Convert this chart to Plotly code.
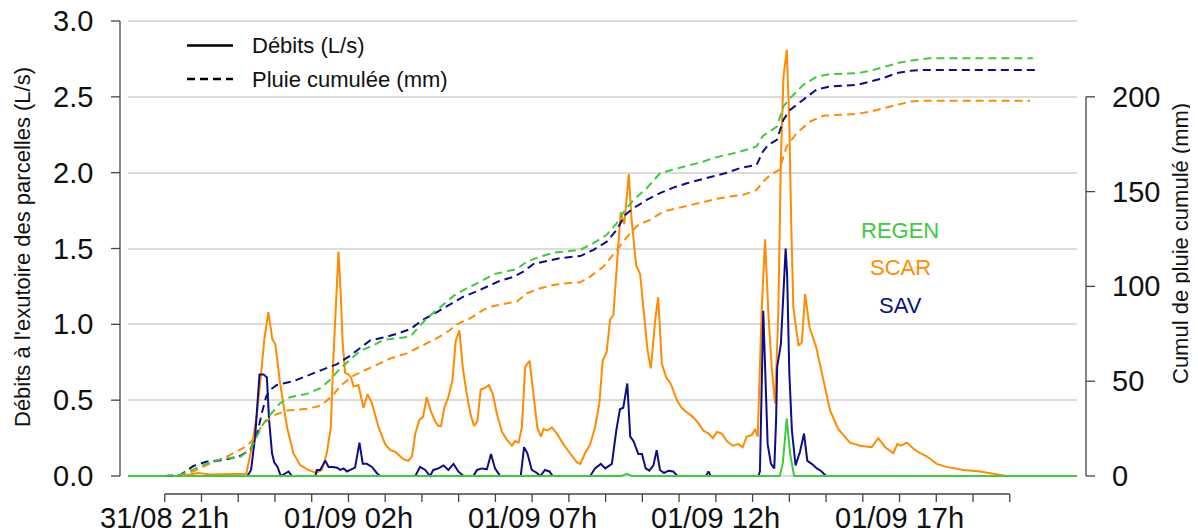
import plotly.graph_objects as go

# ---------------- data (time = hours after 31/08 21h) ----------------
SCAR_T = [-1.0, 0.42, 0.69, 0.91, 1.24, 2.22, 2.37, 2.51, 2.62, 2.71, 2.82, 2.93, 3.01, 3.14, 3.33, 3.50, 3.69, 3.91,
          4.12, 4.28, 4.41, 4.52, 4.59, 4.66, 4.73, 4.79, 4.84, 4.91, 5.00, 5.07, 5.14, 5.27, 5.41, 5.52, 5.64, 5.82,
          6.00, 6.14, 6.27, 6.36, 6.50, 6.63, 6.73, 6.82, 6.93, 7.03, 7.13, 7.24, 7.36, 7.45, 7.52, 7.61, 7.72, 7.83,
          7.92, 8.02, 8.11, 8.22, 8.33, 8.42, 8.51, 8.60, 8.71, 8.82, 8.93, 9.04, 9.18, 9.31, 9.45, 9.54, 9.63, 9.72,
          9.81, 9.93, 10.04, 10.14, 10.24, 10.31, 10.42, 10.54, 10.67, 10.85, 11.03, 11.22, 11.31, 11.44, 11.58, 11.71,
          11.83, 11.92, 12.03, 12.12, 12.21, 12.30, 12.41, 12.51, 12.63, 12.71, 12.83, 12.94, 13.05, 13.14, 13.23,
          13.35, 13.43, 13.53, 13.65, 13.77, 13.94, 14.07, 14.21, 14.37, 14.52, 14.66, 14.80, 14.92, 15.03, 15.16,
          15.30, 15.46, 15.61, 15.73, 15.84, 15.98, 16.07, 16.14, 16.25, 16.34, 16.43, 16.52, 16.61, 16.70, 16.77,
          16.84, 16.93, 17.00, 17.05, 17.11, 17.25, 17.34, 17.43, 17.55, 17.73, 17.88, 18.11, 18.33, 18.65, 18.93,
          19.24, 19.42, 19.61, 19.83, 19.94, 20.04, 20.20, 20.38, 20.56, 20.74, 21.01, 21.28, 21.74, 22.19, 22.64,
          22.92, 24.83]
SCAR_Q = [0, 0, 0.01, 0.02, 0.01, 0.015, 0.19, 0.41, 0.67, 0.90, 1.08, 0.90, 0.87, 0.61, 0.32, 0.15, 0.07, 0.04,
          0.02, 0.04, 0.15, 0.32, 0.78, 1.11, 1.48, 1.20, 0.89, 0.68, 0.67, 0.65, 0.59, 0.60, 0.45, 0.54, 0.48, 0.32,
          0.21, 0.17, 0.16, 0.14, 0.11, 0.10, 0.13, 0.28, 0.37, 0.39, 0.52, 0.43, 0.36, 0.33, 0.33, 0.45, 0.52, 0.63,
          0.89, 0.96, 0.72, 0.54, 0.40, 0.33, 0.36, 0.57, 0.58, 0.60, 0.54, 0.41, 0.29, 0.24, 0.20, 0.23, 0.22, 0.32,
          0.72, 0.76, 0.52, 0.32, 0.26, 0.31, 0.30, 0.32, 0.28, 0.21, 0.15, 0.09, 0.08, 0.15, 0.21, 0.32,
          0.48, 0.76, 0.82, 1.03, 1.06, 1.40, 1.74, 1.66, 1.99, 1.68, 1.39, 1.33, 1.07, 0.83, 0.71,
          1.03, 1.18, 0.74, 0.65, 0.61, 0.50, 0.45, 0.42, 0.39, 0.35, 0.30, 0.28, 0.25, 0.29, 0.28,
          0.23, 0.20, 0.21, 0.19, 0.26, 0.27, 0.31, 0.26, 1.11, 1.56, 1.07, 0.72, 0.48, 1.07, 2.08,
          2.63, 2.81, 2.34, 1.68, 1.11, 0.86, 0.88, 1.20, 0.98, 0.85, 0.68, 0.43, 0.31, 0.22, 0.20,
          0.19, 0.25, 0.19, 0.15, 0.21, 0.20, 0.22, 0.18, 0.15, 0.13, 0.08, 0.06, 0.04, 0.03, 0.01,
          0.0, 0.0]

SAV_T = [-1.0, 2.25, 2.35, 2.46, 2.53, 2.58, 2.69, 2.78, 2.84, 2.92, 2.98, 3.07, 3.16, 3.37, 3.46, 4.10, 4.14, 4.23,
         4.30, 4.37, 4.46, 4.58, 4.69, 4.78, 4.87, 4.96, 5.05, 5.18, 5.30, 5.39, 5.50, 5.64, 5.77, 5.86, 6.82, 6.95,
         7.09, 7.22, 7.31, 7.45, 7.59, 7.72, 7.86, 7.99, 8.13, 8.40, 8.50, 8.63, 8.77, 8.88, 8.99, 9.13, 9.69, 9.78,
         9.87, 9.99, 10.13, 10.22, 10.35, 10.47, 10.56, 11.58, 11.71, 11.87, 11.99, 12.17, 12.29, 12.39, 12.48, 12.59,
         12.67, 12.76, 12.89, 12.99, 13.09, 13.19, 13.30, 13.39, 13.48, 13.59, 13.71, 13.84, 13.95, 14.73, 14.80,
         14.86, 16.16, 16.20, 16.29, 16.36, 16.41, 16.50, 16.59, 16.64, 16.67, 16.77, 16.84, 16.90, 16.94, 17.00,
         17.07, 17.17, 17.29, 17.40, 17.49, 17.61, 17.75, 17.88, 18.00, 24.83]
SAV_Q = [0, 0, 0.04, 0.26, 0.50, 0.67, 0.67, 0.65, 0.37, 0.15, 0.09, 0.06, 0.0, 0.03, 0, 0, 0.04, 0.04,
         0.07, 0.10, 0.06, 0.06, 0.055, 0.04, 0.05, 0.03, 0.04, 0.055, 0.22, 0.08, 0.08, 0.06, 0.02, 0, 0, 0.06,
         0.04, 0, 0.04, 0.05, 0.07, 0.04, 0.08, 0.03, 0, 0, 0.04, 0.05, 0.045, 0.145, 0.05, 0, 0, 0.19,
         0.15, 0.04, 0.02, 0, 0.04, 0.03, 0, 0, 0.05, 0.08, 0.05, 0.08, 0.30, 0.44, 0.45, 0.61,
         0.26, 0.23, 0.145, 0.145, 0.05, 0.035, 0.07, 0.17, 0.04, 0.02, 0.035, 0.03, 0, 0, 0.03,
         0, 0, 0.03, 1.09, 0.63, 0.21, 0.08, 0.05, 0.37, 0.72, 0.87, 1.25, 1.50, 1.33, 0.68,
         0.30, 0.07, 0.16, 0.28, 0.10, 0.08, 0.05, 0.03, 0, 0]

REGEN_T = [-1.0, 12.44, 12.57, 12.71, 16.74, 16.82, 16.93, 17.02, 17.13, 24.83]
REGEN_Q = [0, 0, 0.015, 0, 0, 0.08, 0.38, 0.15, 0, 0]

SAV_CUM_T = [0.01, 0.42, 0.78, 1.15, 1.60, 2.05, 2.33, 2.51, 2.64, 2.76, 2.87, 3.05, 3.50, 3.96, 4.28, 4.69, 5.05,
             5.32, 5.59, 5.95, 6.32, 6.68, 7.04, 7.41, 7.77, 8.13, 8.50, 8.77, 9.13, 9.49, 9.76, 10.04, 10.40, 10.76,
             11.12, 11.31, 11.67, 12.03, 12.30, 12.53, 12.76, 13.12, 13.48, 13.84, 14.21, 14.57, 14.93, 15.30, 15.66,
             16.11, 16.28, 16.43, 16.66, 16.84, 17.02, 17.29, 17.75, 18.11, 18.84, 19.20, 19.56, 19.92, 20.29, 20.65,
             23.71]
SAV_CUM = [0, 0.5, 5.3, 7.6, 8.4, 10.5, 14, 21.6, 33, 41.9, 45.4, 48, 50, 53.3, 56, 59, 63.5,
           67.5, 71.5, 73, 75, 77.5, 82.5, 86.5, 90.5, 94.6, 97.5, 100, 103, 105, 107.8, 111.9, 113.6, 114.9,
           115.7, 116, 119.3, 123.6, 129.8, 137.7, 141.3, 145.6, 149.2, 152.1, 154.4, 156.2, 158.3, 160, 162.4,
           164.1, 171.1, 174.7, 177.3, 187.9, 193.1, 197, 204, 205.4, 206.3, 208.1, 209.9, 212.5, 213.7, 214.2,
           214.2]

REGEN_CUM_T = [0.01, 0.42, 0.78, 1.15, 1.60, 2.05, 2.33, 2.46, 2.69, 2.87, 3.14, 3.41, 3.87, 4.23, 4.50, 4.78, 5.05,
               5.32, 5.68, 5.95, 6.32, 6.68, 6.91, 7.13, 7.50, 7.86, 8.22, 8.59, 8.95, 9.31, 9.58, 9.86, 10.22, 10.58,
               10.94, 11.31, 11.67, 12.03, 12.30, 12.53, 12.76, 13.12, 13.48, 13.84, 14.21, 14.57, 14.93, 15.30, 15.66,
               16.11, 16.28, 16.49, 16.66, 16.84, 17.02, 17.38, 17.75, 18.11, 18.84, 19.20, 19.65, 20.01, 20.47, 20.83,
               23.63]
REGEN_CUM = [0, 0.5, 3.5, 6.5, 9.3, 10, 14.1, 19, 27.8, 32.2, 38.4, 41.5, 43.3, 46.3, 50.7, 56.8, 61.2,
             66, 69, 71.8, 72.7, 73.5, 78.5, 83.2, 89, 95, 99, 102.5, 106.4, 107.8, 109.1, 113.1, 115.7, 117.8,
             118.7, 119.3, 122.8, 127.2, 133.3, 140.4, 145.6, 151.8, 159.7, 161.8, 163.6, 165.3, 167.7, 169.4, 171.1,
             173.8, 179.4, 182.1, 184.3, 194.9, 199.3, 206.3, 210.7, 212, 212.5, 213.7, 216, 218.1, 219.5, 220.4,
             220.4]

SCAR_CUM_T = [0.01, 0.51, 0.88, 1.24, 1.60, 1.96, 2.24, 2.46, 2.69, 2.96, 3.33, 3.87, 4.23, 4.55, 4.78, 5.14, 5.68,
              6.14, 6.59, 6.95, 7.41, 7.77, 7.95, 8.31, 8.67, 8.95, 9.31, 9.58, 9.86, 10.22, 10.58, 10.94, 11.31,
              11.58, 11.94, 12.30, 12.67, 12.89, 13.21, 13.57, 13.94, 14.30, 14.66, 15.03, 15.39, 15.75, 16.11, 16.28,
              16.52, 16.73, 16.93, 17.20, 17.57, 17.93, 18.38, 18.84, 19.20, 19.56, 19.92, 20.29, 20.65, 23.55]
SCAR_CUM = [0, 0.5, 3.2, 6.7, 9.3, 12.8, 15.8, 20.7, 27.8, 32, 34.5, 35.5, 36.9, 42, 47.5, 53, 58,
            62, 64.7, 68.2, 72.7, 77, 80, 83.2, 87.6, 89.7, 90.8, 92, 96.4, 99, 100.8, 101.7, 102.2,
            105.2, 110.4, 119.3, 128.1, 132.5, 135.1, 139.5, 141.3, 143, 144.8, 146.2, 147.4, 148.3, 150.9, 155.3,
            159.4, 161.5, 174, 180.8, 187, 190, 190.5, 191, 192.2, 194, 195.8, 197.5, 198, 198]

TICK_HOURS = list(range(0, 24))
LABEL_HOURS = [0, 5, 10, 15, 20]
LABEL_TEXT = ["31/08 21h", "01/09 02h", "01/09 07h", "01/09 12h", "01/09 17h"]
Q_TICKS = [0.0, 0.5, 1.0, 1.5, 2.0, 2.5, 3.0]
P_TICKS = [0, 50, 100, 150, 200]

# ---------------- styling / layout ----------------
ORANGE = "#FF8C00"
BLUE = "#0D0D8A"
GREEN = "#3DCC3D"
FONT = "Liberation Sans, Arial, sans-serif"
PAGE_W, PAGE_H = 1198, 530
BODY = 8                                       # default page margin of the html body
W, H = PAGE_W - BODY, PAGE_H - BODY
PL, PR, PT, PB = 128, 1077, 18, 478            # plot area in window pixels
X_RANGE = [-1.0, 24.83]
ZERO_PX, TOP_PX = 476.0, 21.0                  # window rows of 0 and 3.0 L/s
PX_PER_Q = (ZERO_PX - TOP_PX) / 3.0
Y_RANGE = [(ZERO_PX - PB) / PX_PER_Q, (ZERO_PX - PT) / PX_PER_Q]
MM_PER_Q = 80.0                                # 200 mm aligned with 2.5 L/s
Y2_RANGE = [Y_RANGE[0] * MM_PER_Q, Y_RANGE[1] * MM_PER_Q]


def fx_px(px):
    return (px - PL) / (PR - PL)


def fy_px(py):
    return (PB - py) / (PB - PT)


def fx_t(t):
    return (t - X_RANGE[0]) / (X_RANGE[1] - X_RANGE[0])


def fy_q(q):
    return (q - Y_RANGE[0]) / (Y_RANGE[1] - Y_RANGE[0])


def fy_mm(mm):
    return (mm - Y2_RANGE[0]) / (Y2_RANGE[1] - Y2_RANGE[0])


DASH = "8px,5px"
fig = go.Figure()
for t, v, c in [(SCAR_CUM_T, SCAR_CUM, ORANGE), (SAV_CUM_T, SAV_CUM, BLUE), (REGEN_CUM_T, REGEN_CUM, GREEN)]:
    fig.add_trace(go.Scatter(x=t, y=v, yaxis="y2", mode="lines",
                             line=dict(color=c, width=2, dash=DASH), hoverinfo="skip"))
for t, v, c in [(SCAR_T, SCAR_Q, ORANGE), (SAV_T, SAV_Q, BLUE), (REGEN_T, REGEN_Q, GREEN)]:
    fig.add_trace(go.Scatter(x=t, y=v, mode="lines", line=dict(color=c, width=2), hoverinfo="skip"))

AX = "#444444"
TXT = "#111111"
shapes = []
ann = []
# left axis
lx = fx_px(120)
shapes.append(dict(type="line", xref="paper", yref="paper", x0=lx, x1=lx, y0=fy_q(0), y1=fy_q(3.0),
                   line=dict(color=AX, width=1.3)))
for q in Q_TICKS:
    shapes.append(dict(type="line", xref="paper", yref="paper", x0=fx_px(111), x1=lx, y0=fy_q(q), y1=fy_q(q),
                       line=dict(color=AX, width=1.3)))
    ann.append(dict(xref="paper", yref="paper", x=fx_px(95), y=fy_q(q), text=f"{q:.1f}", showarrow=False,
                    xanchor="right", yanchor="middle", font=dict(size=29, color=TXT, family=FONT)))
# right axis
rx = fx_px(1086)
shapes.append(dict(type="line", xref="paper", yref="paper", x0=rx, x1=rx, y0=fy_mm(0), y1=fy_mm(200),
                   line=dict(color=AX, width=1.3)))
for p in P_TICKS:
    shapes.append(dict(type="line", xref="paper", yref="paper", x0=rx, x1=fx_px(1095), y0=fy_mm(p), y1=fy_mm(p),
                       line=dict(color=AX, width=1.3)))
    ann.append(dict(xref="paper", yref="paper", x=fx_px(1110), y=fy_mm(p), text=str(p), showarrow=False,
                    xanchor="left", yanchor="middle", font=dict(size=29, color=TXT, family=FONT)))
# x axis
ay = fy_px(494)
shapes.append(dict(type="line", xref="paper", yref="paper", x0=fx_t(TICK_HOURS[0]), x1=fx_t(TICK_HOURS[-1]),
                   y0=ay, y1=ay, line=dict(color=AX, width=1.3)))
for h in TICK_HOURS:
    shapes.append(dict(type="line", xref="paper", yref="paper", x0=fx_t(h), x1=fx_t(h), y0=ay, y1=fy_px(502),
                       line=dict(color=AX, width=1.3)))
for h, txt in zip(LABEL_HOURS, LABEL_TEXT):
    ann.append(dict(xref="paper", yref="paper", x=fx_t(h), y=fy_px(500), text=txt, showarrow=False,
                    xanchor="center", yanchor="top", font=dict(size=29, color=TXT, family=FONT)))
# axis titles
ann.append(dict(xref="paper", yref="paper", x=fx_px(22), y=fy_px(247), text="Débits à l'exutoire des parcelles (L/s)",
                textangle=-90, showarrow=False, xanchor="center", yanchor="middle",
                font=dict(size=22, color=TXT, family=FONT)))
ann.append(dict(xref="paper", yref="paper", x=fx_px(1180), y=fy_px(244), text="Cumul de pluie cumulé (mm)",
                textangle=-90, showarrow=False, xanchor="center", yanchor="middle",
                font=dict(size=22, color=TXT, family=FONT)))
# legend
shapes.append(dict(type="line", xref="paper", yref="paper", x0=fx_px(187), x1=fx_px(233), y0=fy_px(45.5),
                   y1=fy_px(45.5), line=dict(color="#000", width=2.5)))
shapes.append(dict(type="line", xref="paper", yref="paper", x0=fx_px(187), x1=fx_px(233), y0=fy_px(79),
                   y1=fy_px(79), line=dict(color="#000", width=2.5, dash=DASH)))
ann.append(dict(xref="paper", yref="paper", x=fx_px(250), y=fy_px(45.5), text="Débits (L/s)", showarrow=False,
                xanchor="left", yanchor="middle", font=dict(size=22, color=TXT, family=FONT)))
ann.append(dict(xref="paper", yref="paper", x=fx_px(250), y=fy_px(79), text="Pluie cumulée (mm)", showarrow=False,
                xanchor="left", yanchor="middle", font=dict(size=22, color=TXT, family=FONT)))
# series labels
for txt, c, py in [("REGEN", GREEN, 230), ("SCAR", ORANGE, 267.5), ("SAV", BLUE, 305)]:
    ann.append(dict(xref="paper", yref="paper", x=fx_px(900), y=fy_px(py), text=txt, showarrow=False,
                    xanchor="center", yanchor="middle", font=dict(size=22, color=c, family=FONT)))

fig.update_layout(
    width=W, height=H, showlegend=False,
    margin=dict(l=PL - BODY, r=PAGE_W - PR, t=PT - BODY, b=PAGE_H - PB, pad=0),
    paper_bgcolor="white", plot_bgcolor="white",
    font=dict(family=FONT),
    xaxis=dict(range=X_RANGE, visible=False, fixedrange=True),
    yaxis=dict(range=Y_RANGE, tickvals=Q_TICKS, showticklabels=False, ticks="", showline=False,
               zeroline=False, showgrid=True, gridcolor="#DCDCDC", gridwidth=1.6, fixedrange=True),
    yaxis2=dict(range=Y2_RANGE, overlaying="y", side="right", visible=False, fixedrange=True),
    shapes=shapes, annotations=ann,
)

fig.write_html("out.html")
